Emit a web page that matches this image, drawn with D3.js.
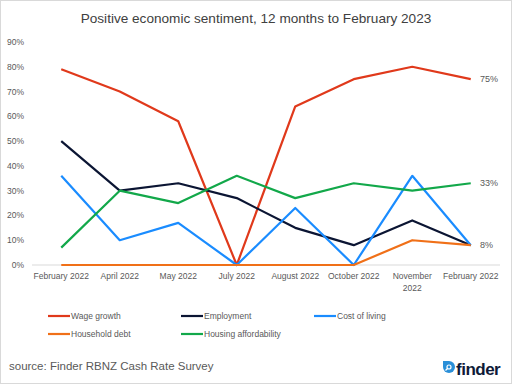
<!DOCTYPE html>
<html><head><meta charset="utf-8">
<script src="https://cdn.jsdelivr.net/npm/d3@7"></script>
<style>html,body{margin:0;padding:0;background:#fff;}svg{display:block;}</style>
</head><body>
<svg id="c" width="512" height="384"></svg>
<script>
const categories = ["February 2022","April 2022","May 2022","July 2022","August 2022","October 2022","November 2022","February 2022 "];
const categoryLines = [["February 2022"],["April 2022"],["May 2022"],["July 2022"],["August 2022"],["October 2022"],["November","2022"],["February 2022"]];
const wageGrowth = [79,70,58,0,64,75,80,75];
const employment = [50,30,33,27,15,8,18,8];
const costOfLiving = [36,10,17,0,23,0,36,8];
const householdDebt = [0,0,0,0,0,0,10,8];
const housingAffordability = [7,30,25,36,27,33,30,33];
const yTicks = [0,10,20,30,40,50,60,70,80,90];
const seriesNames = ["Wage growth","Employment","Cost of living","Household debt","Housing affordability"];
const seriesColors = ["#e0391b","#0b1533","#1a8cff","#f07018","#12a84a"];
const endLabels = [{v:75,t:"75%"},{v:33,t:"33%"},{v:8,t:"8%"}];

const seriesData = [wageGrowth, employment, costOfLiving, householdDebt, housingAffordability];
const svg = d3.select("#c");
const font = "'Liberation Sans', Arial, sans-serif";
const gray = "#595959";

svg.append("rect").attr("x",0.5).attr("y",0.5).attr("width",511).attr("height",383)
  .attr("fill","#fff").attr("stroke","#d9d9d9");

svg.append("text").attr("x",256).attr("y",23).attr("text-anchor","middle")
  .attr("font-family",font).attr("font-size",13.6).attr("fill","#404040")
  .text("Positive economic sentiment, 12 months to February 2023");

const x = d3.scaleBand().domain(categories).range([32,500]);
const y = d3.scaleLinear().domain([0,90]).range([265,42]);
const cx = c => x(c) + x.bandwidth()/2;

// y tick labels
svg.append("g").selectAll("text").data(yTicks).join("text")
  .attr("x",24).attr("y",d=>y(d)).attr("dy","0.35em").attr("text-anchor","end")
  .attr("font-family",font).attr("font-size",8.5).attr("fill",gray)
  .text(d=>d+"%");

// x axis line
svg.append("line").attr("x1",32).attr("x2",500).attr("y1",y(0)).attr("y2",y(0))
  .attr("stroke","#d9d9d9").attr("stroke-width",1);

// x labels
const xl = svg.append("g").selectAll("text").data(categories).join("text")
  .attr("x",d=>cx(d)).attr("y",279).attr("text-anchor","middle")
  .attr("font-family",font).attr("font-size",8.5).attr("fill",gray);
xl.each(function(d,i){
  const t = d3.select(this);
  categoryLines[i].forEach((ln,j)=>{
    t.append("tspan").attr("x",cx(d)).attr("dy", j===0?0:11.5).text(ln);
  });
});

// lines
const line = d3.line().x((d,i)=>cx(categories[i])).y(d=>y(d));
seriesData.forEach((s,k)=>{
  svg.append("path").datum(s).attr("d",line).attr("fill","none")
    .attr("stroke",seriesColors[k]).attr("stroke-width",2.2).attr("stroke-linejoin","round");
});

// end labels
svg.append("g").selectAll("text").data(endLabels).join("text")
  .attr("x",480).attr("y",d=>y(d.v)).attr("dy","0.35em")
  .attr("font-family",font).attr("font-size",9).attr("fill",gray)
  .text(d=>d.t);

// legend
const legPos = [[48,316],[181,316],[314,316],[48,334],[181,334]];
seriesNames.forEach((n,k)=>{
  const [lx,ly] = legPos[k];
  svg.append("line").attr("x1",lx).attr("x2",lx+22).attr("y1",ly).attr("y2",ly)
    .attr("stroke",seriesColors[k]).attr("stroke-width",2.2);
  svg.append("text").attr("x",lx+23).attr("y",ly).attr("dy","0.35em")
    .attr("font-family",font).attr("font-size",8.5).attr("fill",gray).text(n);
});

// source
svg.append("text").attr("x",9).attr("y",370)
  .attr("font-family",font).attr("font-size",11.5).attr("fill",gray)
  .text("source: Finder RBNZ Cash Rate Survey");

// logo
const lg = svg.append("g");
lg.append("path").attr("d","M449,361 a6,6 0 1,1 -6,6 v-6 z").attr("fill","#2a8fd8");
lg.append("circle").attr("cx",449).attr("cy",367).attr("r",2).attr("fill","none").attr("stroke","#fff").attr("stroke-width",1.2);
lg.append("line").attr("x1",447.5).attr("y1",368.5).attr("x2",445.5).attr("y2",370.5).attr("stroke","#fff").attr("stroke-width",1.2);
lg.append("text").attr("x",456).attr("y",374.5)
  .attr("font-family",font).attr("font-weight","bold").attr("font-size",17).attr("fill","#0e1a38")
  .attr("letter-spacing",-0.5).text("finder");
</script>
</body></html>
